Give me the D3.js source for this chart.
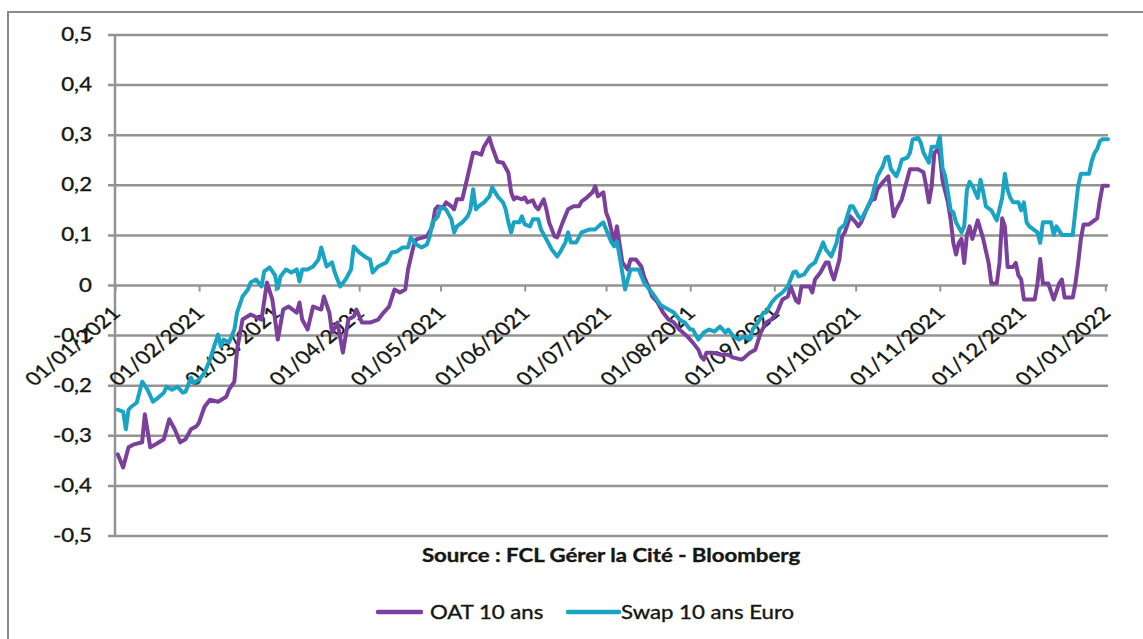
<!DOCTYPE html>
<html><head><meta charset="utf-8">
<script src="https://cdn.jsdelivr.net/npm/d3@7"></script>
<style>
  body { margin: 0; background: #fff; }
  svg { display: block; }
  text { font-family: Lato, "Open Sans", sans-serif; fill: #141714; stroke: #141714; stroke-width: 0.35px; }
</style>
</head><body>
<svg id="chart" width="1143" height="639"></svg>
<script>
// 10-year French OAT yield vs 10-year Euro swap rate, 2021 (in %)
const oatDates = [
  "2021-01-02","2021-01-04","2021-01-06","2021-01-08","2021-01-11","2021-01-12","2021-01-14","2021-01-16","2021-01-19","2021-01-21","2021-01-23","2021-01-25","2021-01-27","2021-01-29","2021-01-31",
  "2021-02-01","2021-02-03","2021-02-05","2021-02-08","2021-02-11","2021-02-12","2021-02-14","2021-02-15","2021-02-17","2021-02-20","2021-02-24","2021-02-26","2021-02-28",
  "2021-03-02","2021-03-04","2021-03-06","2021-03-09","2021-03-10","2021-03-11","2021-03-13","2021-03-15","2021-03-18","2021-03-19","2021-03-21","2021-03-22","2021-03-24","2021-03-26","2021-03-28","2021-03-30","2021-03-31",
  "2021-04-02","2021-04-05","2021-04-08","2021-04-10","2021-04-12","2021-04-14","2021-04-16","2021-04-18","2021-04-19","2021-04-21","2021-04-22","2021-04-26","2021-04-28","2021-04-29","2021-04-30",
  "2021-05-02","2021-05-03","2021-05-05","2021-05-06","2021-05-07","2021-05-09","2021-05-11","2021-05-13","2021-05-14","2021-05-16","2021-05-17","2021-05-19","2021-05-20","2021-05-22","2021-05-24","2021-05-26","2021-05-27","2021-05-28","2021-05-29","2021-05-31",
  "2021-06-01","2021-06-02","2021-06-04","2021-06-05","2021-06-06","2021-06-08","2021-06-09","2021-06-10","2021-06-12","2021-06-13","2021-06-15","2021-06-17","2021-06-19","2021-06-21","2021-06-22","2021-06-24","2021-06-26","2021-06-27","2021-06-28","2021-06-30",
  "2021-07-01","2021-07-02","2021-07-04","2021-07-05","2021-07-07","2021-07-09","2021-07-10","2021-07-12","2021-07-14","2021-07-15","2021-07-17","2021-07-18","2021-07-20","2021-07-22","2021-07-24","2021-07-26","2021-07-28","2021-07-31",
  "2021-08-02","2021-08-04","2021-08-05","2021-08-06","2021-08-07","2021-08-09","2021-08-12","2021-08-15","2021-08-17","2021-08-20","2021-08-21","2021-08-23","2021-08-25","2021-08-27","2021-08-29","2021-08-31",
  "2021-09-02","2021-09-04","2021-09-06","2021-09-07","2021-09-09","2021-09-10","2021-09-11","2021-09-14","2021-09-15","2021-09-16","2021-09-18","2021-09-20","2021-09-21","2021-09-22","2021-09-23","2021-09-25","2021-09-26","2021-09-27","2021-09-29",
  "2021-10-01","2021-10-02","2021-10-03","2021-10-05","2021-10-07","2021-10-08","2021-10-09","2021-10-11","2021-10-13","2021-10-14","2021-10-15","2021-10-16","2021-10-18","2021-10-19","2021-10-20","2021-10-21","2021-10-24","2021-10-26","2021-10-27","2021-10-28","2021-10-29","2021-10-30","2021-10-31",
  "2021-11-01","2021-11-02","2021-11-04","2021-11-05","2021-11-06","2021-11-07","2021-11-08","2021-11-09","2021-11-10","2021-11-11","2021-11-12","2021-11-13","2021-11-15","2021-11-17","2021-11-19","2021-11-20","2021-11-22","2021-11-23","2021-11-24","2021-11-25","2021-11-26","2021-11-28","2021-11-29","2021-11-30",
  "2021-12-01","2021-12-02","2021-12-04","2021-12-06","2021-12-07","2021-12-08","2021-12-09","2021-12-11","2021-12-12","2021-12-13","2021-12-15","2021-12-16","2021-12-17","2021-12-18","2021-12-20","2021-12-21","2021-12-22","2021-12-23","2021-12-24","2021-12-26","2021-12-28","2021-12-29","2021-12-30","2021-12-31","2022-01-02"
];
const oatValues = [
  -0.337,-0.363,-0.323,-0.317,-0.313,-0.257,-0.323,-0.317,-0.307,-0.267,-0.287,-0.313,-0.307,-0.287,-0.281,
  -0.273,-0.242,-0.228,-0.232,-0.222,-0.208,-0.192,-0.128,-0.068,-0.058,-0.068,0.006,-0.028,
  -0.108,-0.048,-0.042,-0.054,-0.034,-0.068,-0.088,-0.042,-0.048,-0.022,-0.054,-0.094,-0.074,-0.134,-0.068,-0.062,-0.048,
  -0.074,-0.074,-0.068,-0.054,-0.042,-0.008,-0.014,-0.008,0.032,0.078,0.092,0.098,0.118,0.152,0.158,
  0.156,0.166,0.158,0.152,0.172,0.172,0.218,0.265,0.265,0.261,0.277,0.295,0.277,0.247,0.245,0.225,0.186,0.172,0.176,0.172,
  0.176,0.166,0.170,0.158,0.152,0.172,0.152,0.126,0.098,0.096,0.126,0.152,0.158,0.158,0.168,0.176,0.186,0.198,0.178,0.186,
  0.146,0.132,0.086,0.118,0.046,0.032,0.052,0.052,0.038,0.018,-0.008,-0.022,-0.034,-0.054,-0.068,-0.074,-0.088,-0.102,
  -0.114,-0.128,-0.142,-0.148,-0.134,-0.134,-0.138,-0.138,-0.144,-0.148,-0.144,-0.134,-0.128,-0.094,-0.074,-0.068,
  -0.054,-0.028,-0.022,-0.002,-0.030,-0.034,-0.002,-0.002,-0.014,0.012,0.026,0.046,0.046,0.026,0.012,0.052,0.098,0.106,0.138,
  0.126,0.118,0.126,0.152,0.172,0.172,0.192,0.206,0.218,0.178,0.138,0.152,0.172,0.192,0.212,0.232,0.232,0.226,0.198,0.166,0.198,0.265,0.271,
  0.262,0.210,0.166,0.132,0.085,0.062,0.085,0.093,0.045,0.101,0.118,0.093,0.130,0.093,0.045,0.004,0.004,0.045,0.134,0.118,0.037,0.037,0.045,0.020,
  0.012,-0.028,-0.028,-0.028,0.004,0.053,0.004,0.004,-0.012,-0.028,0.004,0.012,-0.024,-0.024,-0.024,0.004,0.045,0.093,0.122,0.122,0.130,0.134,0.170,0.199,0.199
];
const swapDates = [
  "2021-01-02","2021-01-04","2021-01-05","2021-01-06","2021-01-07","2021-01-09","2021-01-11","2021-01-13","2021-01-15","2021-01-16","2021-01-19","2021-01-20","2021-01-22","2021-01-24","2021-01-26","2021-01-27","2021-01-29","2021-01-30",
  "2021-02-01","2021-02-03","2021-02-05","2021-02-07","2021-02-08","2021-02-09","2021-02-10","2021-02-12","2021-02-14","2021-02-15","2021-02-17","2021-02-19","2021-02-20","2021-02-22","2021-02-24","2021-02-25","2021-02-27",
  "2021-03-01","2021-03-02","2021-03-03","2021-03-05","2021-03-07","2021-03-09","2021-03-10","2021-03-11","2021-03-13","2021-03-15","2021-03-17","2021-03-18","2021-03-20","2021-03-22","2021-03-23","2021-03-25","2021-03-27","2021-03-29","2021-03-30",
  "2021-04-01","2021-04-03","2021-04-05","2021-04-06","2021-04-08","2021-04-11","2021-04-13","2021-04-15","2021-04-17","2021-04-19","2021-04-20","2021-04-22","2021-04-24","2021-04-26","2021-04-27","2021-04-28","2021-04-30",
  "2021-05-01","2021-05-03","2021-05-05","2021-05-06","2021-05-07","2021-05-09","2021-05-11","2021-05-12","2021-05-13","2021-05-14","2021-05-15","2021-05-17","2021-05-19","2021-05-20","2021-05-22","2021-05-24","2021-05-25","2021-05-26","2021-05-27","2021-05-28","2021-05-30","2021-05-31",
  "2021-06-01","2021-06-03","2021-06-04","2021-06-06","2021-06-07","2021-06-09","2021-06-11","2021-06-13","2021-06-14","2021-06-16","2021-06-17","2021-06-18","2021-06-20","2021-06-22","2021-06-25","2021-06-27","2021-06-29","2021-06-30",
  "2021-07-01","2021-07-03","2021-07-04","2021-07-05","2021-07-06","2021-07-08","2021-07-10","2021-07-12","2021-07-13","2021-07-15","2021-07-17","2021-07-19","2021-07-21","2021-07-22","2021-07-24","2021-07-26","2021-07-28","2021-07-30",
  "2021-08-01","2021-08-02","2021-08-04","2021-08-06","2021-08-08","2021-08-10","2021-08-12","2021-08-14","2021-08-15","2021-08-17","2021-08-19","2021-08-21","2021-08-23","2021-08-24","2021-08-26","2021-08-28","2021-08-29","2021-08-31",
  "2021-09-02","2021-09-04","2021-09-06","2021-09-08","2021-09-09","2021-09-10","2021-09-12","2021-09-14","2021-09-16","2021-09-18","2021-09-19","2021-09-20","2021-09-22","2021-09-24","2021-09-25","2021-09-27","2021-09-29","2021-09-30",
  "2021-10-02","2021-10-03","2021-10-05","2021-10-07","2021-10-08","2021-10-09","2021-10-11","2021-10-12","2021-10-13","2021-10-14","2021-10-16","2021-10-17","2021-10-18","2021-10-20","2021-10-21","2021-10-22","2021-10-24","2021-10-25","2021-10-26","2021-10-28","2021-10-29","2021-10-31",
  "2021-11-01","2021-11-02","2021-11-03","2021-11-04","2021-11-05","2021-11-06","2021-11-07","2021-11-09","2021-11-10","2021-11-11","2021-11-12","2021-11-13","2021-11-15","2021-11-16","2021-11-17","2021-11-18","2021-11-20","2021-11-22","2021-11-24","2021-11-25","2021-11-26","2021-11-27","2021-11-28","2021-11-30",
  "2021-12-01","2021-12-02","2021-12-03","2021-12-04","2021-12-06","2021-12-07","2021-12-08","2021-12-09","2021-12-10","2021-12-12","2021-12-13","2021-12-14","2021-12-16","2021-12-18","2021-12-20","2021-12-21","2021-12-22","2021-12-23","2021-12-26","2021-12-27","2021-12-28","2021-12-29","2021-12-30","2021-12-31","2022-01-02"
];
const swapValues = [
  -0.248,-0.252,-0.287,-0.248,-0.242,-0.234,-0.192,-0.208,-0.232,-0.228,-0.214,-0.202,-0.208,-0.202,-0.214,-0.212,-0.184,-0.194,
  -0.188,-0.174,-0.148,-0.114,-0.098,-0.122,-0.108,-0.114,-0.088,-0.054,-0.022,-0.008,0.006,0.012,-0.002,0.028,0.036,
  0.020,-0.006,0.018,0.032,0.026,0.032,0.008,0.032,0.032,0.038,0.052,0.076,0.038,0.046,0.026,-0.002,0.012,0.032,0.078,
  0.066,0.058,0.052,0.026,0.038,0.046,0.066,0.068,0.076,0.076,0.096,0.082,0.076,0.082,0.098,0.126,0.138,
  0.156,0.152,0.132,0.106,0.118,0.126,0.138,0.152,0.192,0.152,0.158,0.166,0.178,0.196,0.178,0.166,0.152,0.126,0.106,0.126,0.126,0.138,
  0.122,0.118,0.132,0.132,0.112,0.092,0.072,0.058,0.066,0.086,0.106,0.086,0.086,0.106,0.112,0.112,0.122,0.126,
  0.112,0.086,0.078,0.088,0.058,-0.008,0.032,0.032,0.032,0.006,-0.008,-0.022,-0.038,-0.042,-0.048,-0.054,-0.068,-0.074,
  -0.088,-0.088,-0.108,-0.094,-0.088,-0.092,-0.082,-0.094,-0.088,-0.102,-0.108,-0.102,-0.108,-0.088,-0.074,-0.054,-0.054,-0.034,
  -0.022,-0.014,-0.002,0.026,0.028,0.018,0.022,0.038,0.046,0.072,0.086,0.072,0.058,0.086,0.112,0.122,0.158,0.158,
  0.138,0.132,0.152,0.176,0.198,0.218,0.238,0.255,0.257,0.232,0.218,0.232,0.251,0.255,0.265,0.291,0.295,0.285,0.265,0.245,0.277,0.277,
  0.298,0.235,0.218,0.186,0.150,0.146,0.126,0.106,0.118,0.191,0.207,0.199,0.175,0.211,0.187,0.158,0.150,0.130,0.175,0.223,0.191,0.175,0.166,0.166,
  0.150,0.166,0.126,0.118,0.110,0.106,0.085,0.126,0.126,0.126,0.101,0.118,0.101,0.101,0.101,0.150,0.199,0.223,0.223,0.248,0.264,0.272,0.288,0.292,0.292
];
const xTickLabels = ["01/01/2021","01/02/2021","01/03/2021","01/04/2021","01/05/2021","01/06/2021",
  "01/07/2021","01/08/2021","01/09/2021","01/10/2021","01/11/2021","01/12/2021","01/01/2022"];
const yTicks = [0.5, 0.4, 0.3, 0.2, 0.1, 0, -0.1, -0.2, -0.3, -0.4, -0.5];
const seriesNames = ["OAT 10 ans", "Swap 10 ans Euro"];
const seriesColors = ["#7b3f9c", "#18a4c2"];
const sourceText = "Source : FCL Gérer la Cité - Bloomberg";

const svg = d3.select("#chart");
const parseISO = d3.timeParse("%Y-%m-%d");
const parseTick = d3.timeParse("%d/%m/%Y");
const fmtTick = d3.timeFormat("%d/%m/%Y");
const frLocale = d3.formatLocale({ decimal: ",", thousands: " ", grouping: [3], currency: ["", " €"], minus: "-" });
const fmtY = frLocale.format(".1~f");
const stretch = "scale(1.2,1)";   // text is drawn slightly widened

const plot = { left: 115, right: 1108, top: 35, bottom: 536 };
const x = d3.scaleTime()
  .domain([parseISO("2021-01-01"), parseISO("2022-01-02")])
  .range([plot.left, plot.right]);
const y = d3.scaleLinear().domain([-0.5, 0.5]).range([plot.bottom, plot.top]);

// outer frame (left and top edges)
svg.append("path")
  .attr("d", "M8,639 V12 H1143")
  .attr("fill", "none").attr("stroke", "#8a8a8a").attr("stroke-width", 2);

// horizontal gridlines
svg.append("g").selectAll("line").data(yTicks).join("line")
  .attr("x1", plot.left - 7).attr("x2", plot.right)
  .attr("y1", d => y(d)).attr("y2", d => y(d))
  .attr("stroke", "#939393").attr("stroke-width", 2.5);

// vertical value axis line
svg.append("line")
  .attr("x1", plot.left).attr("x2", plot.left)
  .attr("y1", y(0.5)).attr("y2", y(-0.5))
  .attr("stroke", "#939393").attr("stroke-width", 2.5);

// value labels
svg.append("g").selectAll("text").data(yTicks).join("text")
  .attr("transform", d => `translate(92,${y(d) + 6}) ${stretch}`)
  .attr("text-anchor", "end")
  .style("font-size", "18.5px")
  .text(d => fmtY(d));

// date axis crossing at zero
const xAxis = d3.axisBottom(x)
  .tickValues(xTickLabels.map(parseTick))
  .tickFormat(fmtTick)
  .tickSize(6);
const gx = svg.append("g").attr("transform", `translate(0,${y(0)})`).call(xAxis);
gx.select(".domain").remove();
gx.selectAll(".tick line").attr("stroke", "#939393").attr("stroke-width", 2);
gx.selectAll(".tick text")
  .attr("x", null).attr("y", null).attr("dy", null)
  .attr("text-anchor", "end")
  .attr("transform", `translate(6,29) ${stretch} rotate(-45)`)
  .attr("fill", "#141714")
  .style("font-family", "Lato, sans-serif")
  .style("font-size", "18.5px");

// series lines
const series = [
  { name: seriesNames[0], color: seriesColors[0], data: oatDates.map((d, i) => ({ date: parseISO(d), value: oatValues[i] })) },
  { name: seriesNames[1], color: seriesColors[1], data: swapDates.map((d, i) => ({ date: parseISO(d), value: swapValues[i] })) }
];
const line = d3.line().x(d => x(d.date)).y(d => y(d.value));
svg.append("g").selectAll("path").data(series).join("path")
  .attr("d", d => line(d.data))
  .attr("fill", "none")
  .attr("stroke", d => d.color)
  .attr("stroke-width", 4)
  .attr("stroke-linejoin", "round")
  .attr("stroke-linecap", "round");

// source caption
svg.append("text")
  .attr("transform", `translate(611,562) ${stretch}`)
  .attr("text-anchor", "middle")
  .style("font-size", "18.5px").style("font-weight", "bold")
  .text(sourceText);

// legend
const legendPos = [{ x1: 378, x2: 421, tx: 430 }, { x1: 568, x2: 619, tx: 621 }];
const lg = svg.append("g").selectAll("g").data(series).join("g");
lg.append("line")
  .attr("x1", (d, i) => legendPos[i].x1).attr("x2", (d, i) => legendPos[i].x2)
  .attr("y1", 612).attr("y2", 612)
  .attr("stroke", d => d.color).attr("stroke-width", 4.5).attr("stroke-linecap", "round");
lg.append("text")
  .attr("transform", (d, i) => `translate(${legendPos[i].tx},619) ${stretch}`)
  .style("font-size", "18.5px")
  .text(d => d.name);
</script>
</body></html>
